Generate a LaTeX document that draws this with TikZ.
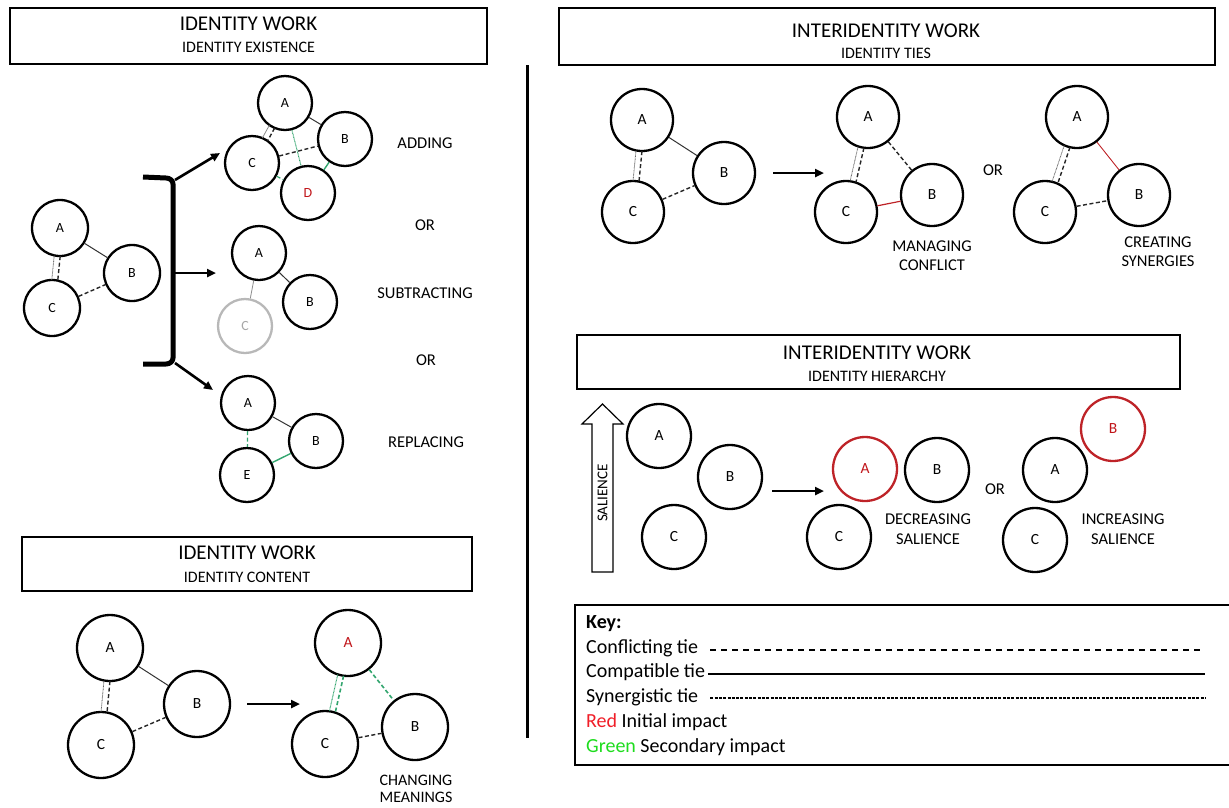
\documentclass[tikz,border=0pt]{standalone}
\usepackage{fontspec}
\setmainfont{Carlito}
\usetikzlibrary{calc,arrows.meta}

\definecolor{impred}{RGB}{192,20,25}
\definecolor{ringred}{RGB}{190,35,40}
\definecolor{keyred}{RGB}{240,30,40}
\definecolor{keygreen}{RGB}{30,220,30}
\definecolor{tiegreen}{RGB}{50,165,110}

% two parallel ties between an upper and a lower identity circle:
% #2 drawn on the left, #3 on the right, #1 = circle radius
\newcommand\twintie[5][28pt]{%
  \draw[#2, shorten <=#1, shorten >=#1]
    ($(#4.center)!3pt!-90:(#5.center)$) -- ($(#5.center)!3pt!90:(#4.center)$);
  \draw[#3, shorten <=#1, shorten >=#1]
    ($(#4.center)!3pt!90:(#5.center)$) -- ($(#5.center)!3pt!-90:(#4.center)$);
}

\begin{document}
\begin{tikzpicture}[x=1pt,y=-1pt,
  idn/.style={circle, draw, line width=2.3pt, inner sep=0pt, minimum size=#1,
    font=\fontsize{14}{14}\selectfont},
  idn/.default=56pt,
  big/.style={font=\fontsize{15.5}{15.5}\selectfont},
  framebox/.style={draw, line width=2.4pt, inner sep=0pt},
  ttl/.style={inner sep=0pt, font=\fontsize{21}{21}\selectfont},
  subttl/.style={inner sep=0pt, font=\fontsize{16}{16}\selectfont},
  lbl/.style={inner sep=0pt, align=center, font=\fontsize{16.5}{19.5}\selectfont},
  conflict/.style={line width=1.4pt, dash pattern=on 4pt off 2.5pt, black!85},
  compat/.style={line width=1pt, black!80},
  synerg/.style={line width=0.8pt, dash pattern=on 0.8pt off 0.6pt, black!60},
  flow/.style={line width=2.6pt, -{Triangle[length=9pt,width=8pt]}},
]
\useasboundingbox (0,0) rectangle (1229,807);
\clip (0,0) rectangle (1229,807);

% ---------------- identity existence ----------------
\node[framebox, minimum width=477pt, minimum height=56pt] (exbox) at (248.5,36) {};
\node[ttl] (exttl) at (248.5,24) {IDENTITY WORK};
\node[subttl] (exsub) at (248.5,47) {IDENTITY EXISTENCE};

\node[idn] (eA) at (60,228) {A};
\node[idn] (eB) at (132,273) {B};
\node[idn] (eC) at (52,308) {C};
\draw[compat] (eA) -- (eB);
\draw[conflict] (eC) -- (eB);
\twintie{synerg}{conflict}{eA}{eC}

% bracket
\draw[line width=5pt, line join=round]
  (143,177) -- (166,178) to[out=0,in=90] (173,184) -- (173,358)
  to[out=-90,in=0] (166,364) -- (143,364);
\coordinate (brTop) at (175,180);
\coordinate (brMid) at (173,273);
\coordinate (brBot) at (175,363);

% adding
\node[idn=54pt] (aA) at (285,103) {A};
\node[idn=54pt] (aB) at (345,139) {B};
\node[idn=54pt] (aC) at (252,163) {C};
\node[idn=54pt, text=impred] (aD) at (308,193) {D};
\twintie[27pt]{compat, black!45, line width=0.8pt}{conflict}{aA}{aC}
\draw[compat] (aA) -- (aB);
\draw[conflict] (aC) -- (aB);
\draw[synerg, tiegreen, line width=1pt] (aA) -- (aD);
\draw[conflict, tiegreen, line width=1.2pt] (aC) -- (aD);
\draw[compat, tiegreen, line width=1.4pt] (aB) -- (aD);
\node[lbl] (tAdd) at (425,143) {ADDING};
\node[lbl] (tOr1) at (425,225) {OR};

% subtracting
\node[idn=54pt] (sA) at (259,253) {A};
\node[idn=54pt] (sB) at (310,302) {B};
\node[idn=54pt, draw=black!28, text=black!35] (sC) at (245,326) {C};
\draw[compat] (sA) -- (sB);
\draw[compat, black!45, line width=0.8pt] (sA) -- (sC);
\node[lbl] (tSub) at (425,293) {SUBTRACTING};
\node[lbl] (tOr2) at (426,360) {OR};

% replacing
\node[idn=54pt] (rA) at (248,403) {A};
\node[idn=54pt] (rB) at (316,441) {B};
\node[idn=54pt] (rE) at (247,475) {E};
\draw[compat] (rA) -- (rB);
\draw[conflict, tiegreen, line width=1.2pt] (rA) -- (rE);
\draw[compat, tiegreen, line width=1.4pt] (rE) -- (rB);
\node[lbl] (tRep) at (426,442) {REPLACING};

\draw[flow] (brTop) -- (220,153);
\draw[flow] (brMid) -- (216,273);
\draw[flow] (brBot) -- (213,390);

% ---------------- identity content ----------------
\node[framebox, minimum width=450pt, minimum height=54pt] (cobox) at (247,564) {};
\node[ttl] (cottl) at (247,553) {IDENTITY WORK};
\node[subttl] (cosub) at (247,577) {IDENTITY CONTENT};

\node[idn=66pt, big] (cA) at (110,648) {A};
\node[idn=66pt, big] (cB) at (197,704) {B};
\node[idn=66pt, big] (cC) at (101,745) {C};
\draw[compat] (cA) -- (cB);
\draw[conflict] (cC) -- (cB);
\twintie[33pt]{synerg}{conflict}{cA}{cC}

\draw[flow] (247,704) -- (300,704);

\node[idn=66pt, big, text=impred] (mA) at (348,643) {A};
\node[idn=66pt, big] (mB) at (415,727) {B};
\node[idn=66pt, big] (mC) at (325,744) {C};
\twintie[33pt]{synerg, tiegreen, line width=1pt}{conflict, tiegreen, line width=1.6pt}{mA}{mC}
\draw[conflict, tiegreen, line width=1.6pt] (mA) -- (mB);
\draw[conflict] (mC) -- (mB);
\node[inner sep=0pt, align=center, font=\fontsize{16}{17}\selectfont] (tChg) at (416,789) {CHANGING\\MEANINGS};

% divider
\draw[line width=3pt] (527,65) -- (527,738);

% ---------------- identity ties ----------------
\node[framebox, minimum width=656pt, minimum height=57pt] (tibox) at (887,36.5) {};
\node[ttl] (tittl) at (886,31) {INTERIDENTITY WORK};
\node[subttl] (tisub) at (886,53) {IDENTITY TIES};

\node[idn=62pt, big] (tA) at (642,120) {A};
\node[idn=62pt, big] (tB) at (724,173) {B};
\node[idn=62pt, big] (tC) at (633,212) {C};
\draw[compat] (tA) -- (tB);
\draw[conflict] (tC) -- (tB);
\twintie[31pt]{synerg}{conflict}{tA}{tC}

\draw[flow] (773,173) -- (824,173);

\node[idn=62pt, big] (kA) at (868,117) {A};
\node[idn=62pt, big] (kB) at (932,195) {B};
\node[idn=62pt, big] (kC) at (846,212) {C};
\twintie[31pt]{synerg}{conflict}{kA}{kC}
\draw[conflict] (kA) -- (kB);
\draw[compat, ringred, line width=1.2pt] (kC) -- (kB);
\node[lbl] (tMan) at (932,255.5) {MANAGING\\CONFLICT};

\node[lbl] (tOr3) at (993,170) {OR};

\node[idn=62pt, big] (yA) at (1077,117) {A};
\node[idn=62pt, big] (yB) at (1139,195) {B};
\node[idn=62pt, big] (yC) at (1045,212) {C};
\twintie[31pt]{synerg}{conflict}{yA}{yC}
\draw[compat, ringred, line width=0.9pt] (yA) -- (yB);
\draw[conflict] (yC) -- (yB);
\node[lbl] (tCre) at (1158,251.5) {CREATING\\SYNERGIES};

% ---------------- identity hierarchy ----------------
\node[framebox, minimum width=603pt, minimum height=54pt] (hibox) at (878.5,362) {};
\node[ttl] (hittl) at (877,353) {INTERIDENTITY WORK};
\node[subttl] (hisub) at (877,376) {IDENTITY HIERARCHY};

\draw[line width=1.2pt, line join=miter]
  (592,572) -- (592,424) -- (582,424) -- (602.5,404) -- (623,424)
  -- (613,424) -- (613,572) -- cycle;
\node[inner sep=0pt, rotate=90, font=\fontsize{15}{15}\selectfont] (tSal) at (602.5,493) {SALIENCE};

\node[idn=64pt, big] (hA) at (659,436) {A};
\node[idn=64pt, big] (hB) at (730,477) {B};
\node[idn=64pt, big] (hC) at (674,537) {C};

\draw[flow] (772,491) -- (824,491);

\node[idn=64pt, big, draw=ringred, text=impred] (dA) at (865,469) {A};
\node[idn=64pt, big] (dB) at (937,470) {B};
\node[idn=64pt, big] (dC) at (839,537) {C};
\node[lbl] (tDec) at (928,529) {DECREASING\\SALIENCE};

\node[lbl] (tOr4) at (995,489) {OR};

\node[idn=64pt, big] (iA) at (1055,470) {A};
\node[idn=64pt, big, draw=ringred, text=impred] (iB) at (1113,429) {B};
\node[idn=64pt, big] (iC) at (1035,540) {C};
\node[lbl] (tInc) at (1123,529) {INCREASING\\SALIENCE};

% ---------------- key ----------------
\node[framebox, minimum width=680pt, minimum height=160pt] (keybox) at (915,685) {};
\begin{scope}[every node/.style={inner sep=0pt, anchor=west, font=\fontsize{20}{20}\selectfont}]
  \node (kKey) at (586,624) {\bfseries Key:};
  \node (kCon) at (586,648) {Conflicting tie};
  \node (kCom) at (586,672) {Compatible tie};
  \node (kSyn) at (586,697) {Synergistic tie};
  \node (kRed) at (586,722) {\textcolor{keyred}{Red} Initial impact};
  \node (kGrn) at (586,747) {\textcolor{keygreen}{Green} Secondary impact};
\end{scope}
\coordinate (kConEnd) at (1205,650);
\coordinate (kComEnd) at (1205,674);
\coordinate (kSynEnd) at (1205,698);
\draw[line width=2pt, dash pattern=on 6pt off 5pt] ([xshift=12pt,yshift=-2pt]kCon.east) -- (kConEnd);
\draw[line width=1.6pt] ([xshift=3pt,yshift=-2pt]kCom.east) -- (kComEnd);
\draw[line width=1.6pt, dash pattern=on 3pt off 1.3pt] ([xshift=12pt,yshift=-1pt]kSyn.east) -- (kSynEnd);

\end{tikzpicture}
\end{document}
